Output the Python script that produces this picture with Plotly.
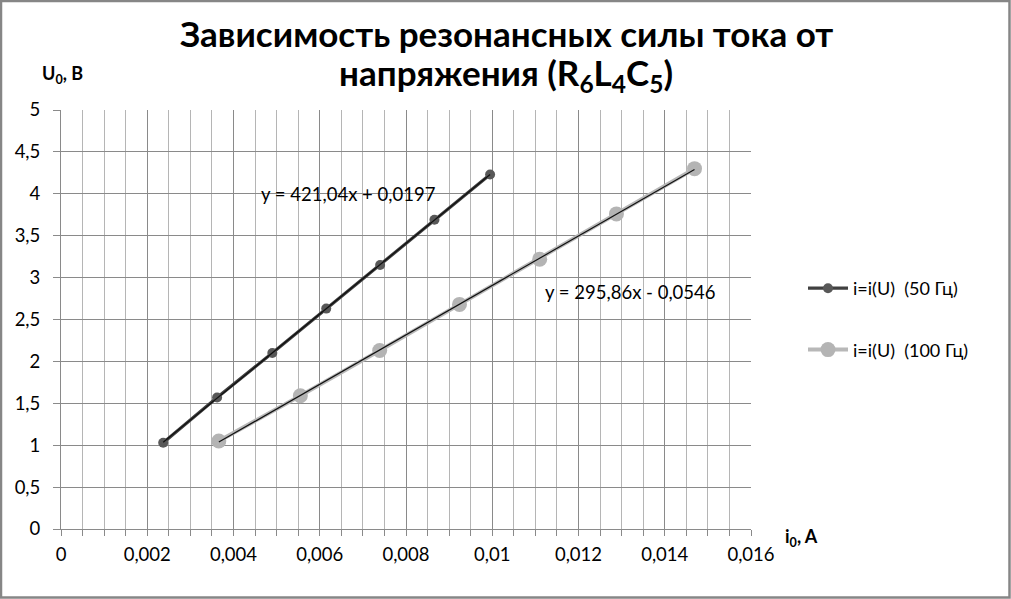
import numpy as np
import plotly.graph_objects as go

# Data
i_50 = [0.00237, 0.00362, 0.00490, 0.00615, 0.00740, 0.00866, 0.00995]
u_50 = [1.03, 1.57, 2.10, 2.63, 3.15, 3.69, 4.23]
i_100 = [0.00366, 0.00555, 0.00739, 0.00924, 0.01110, 0.01288, 0.01469]
u_100 = [1.05, 1.59, 2.13, 2.68, 3.22, 3.76, 4.30]

names = ["i=i(U)  (50 Гц)", "i=i(U)  (100 Гц)"]
eq_texts = ["y = 421,04x + 0,0197", "y = 295,86x - 0,0546"]
title_lines = ["Зависимость резонансных силы тока от",
               "напряжения (R<sub>6</sub>L<sub>4</sub>C<sub>5</sub>)"]
x_title = "i<sub>0</sub>, A"
y_title = "U<sub>0</sub>, В"

FONT = "Lato"
W, H = 1011, 599
ML, MR, MT, MB = 61, 260, 110, 70
pw = W - ML - MR
ph = H - MT - MB


def px_x(p):
    return (p - ML) / pw


def px_y(p):
    return 1 - (p - MT) / ph


fig = go.Figure()

# Series
fig.add_trace(go.Scatter(x=i_50, y=u_50, mode="lines+markers", name=names[0],
                         line=dict(color="#404040", width=3.2),
                         marker=dict(color="#585858", size=10),
                         legendgroup="a"))
fig.add_trace(go.Scatter(x=i_100, y=u_100, mode="lines+markers", name=names[1],
                         line=dict(color="#b8b8b8", width=4),
                         marker=dict(color="#b4b4b4", size=15),
                         legendgroup="b"))

# Linear trendlines computed from the data
for xs, ys in [(i_50, u_50), (i_100, u_100)]:
    k, b = np.polyfit(xs, ys, 1)
    xx = np.array([min(xs), max(xs)])
    fig.add_trace(go.Scatter(x=xx, y=k * xx + b, mode="lines", showlegend=False,
                             line=dict(color="#111111", width=1.2), hoverinfo="skip"))

grid_major = "#8a8a8a"
grid_minor = "#b5b5b5"
TICK = dict(family=FONT, size=18.5, color="#000000")

fig.update_xaxes(range=[0, 0.016], dtick=0.002, tick0=0,
                 showgrid=True, gridcolor=grid_major, gridwidth=1,
                 showline=True, linecolor=grid_major, linewidth=1,
                 ticks="outside", ticklen=6, tickcolor=grid_major,
                 zeroline=False, ticklabelstandoff=3,
                 minor=dict(dtick=0.0005, showgrid=True, gridcolor=grid_minor,
                            ticks="outside", ticklen=6, tickcolor=grid_major),
                 tickfont=TICK)
fig.update_yaxes(range=[0, 5], dtick=0.5, tick0=0,
                 showgrid=True, gridcolor=grid_major, gridwidth=1,
                 showline=True, linecolor=grid_major, linewidth=1,
                 ticks="outside", ticklen=7, tickcolor=grid_major,
                 zeroline=False, ticklabelstandoff=9,
                 tickfont=TICK)

fig.update_layout(
    width=W, height=H,
    margin=dict(l=ML, r=MR, t=MT, b=MB, autoexpand=False),
    paper_bgcolor="white", plot_bgcolor="white",
    separators=", ",
    legend=dict(x=px_x(803), y=px_y(270), xanchor="left", yanchor="top",
                font=dict(family=FONT, size=18, color="#000000"),
                tracegroupgap=35, bgcolor="rgba(0,0,0,0)", itemwidth=40),
    showlegend=True,
)

# Title (two lines)
for txt, yc in zip(title_lines, [33, 75]):
    fig.add_annotation(xref="paper", yref="paper", x=px_x(506), y=px_y(yc),
                       xanchor="center", yanchor="middle", text=txt, showarrow=False,
                       font=dict(family=FONT, size=35, color="#000000", weight="bold"))

# Trendline equations
fig.add_annotation(xref="paper", yref="paper", x=px_x(348), y=px_y(194),
                   xanchor="center", yanchor="middle",
                   text=eq_texts[0], showarrow=False,
                   font=dict(family=FONT, size=18.5, color="#000000"))
fig.add_annotation(xref="paper", yref="paper", x=px_x(630), y=px_y(292),
                   xanchor="center", yanchor="middle",
                   text=eq_texts[1], showarrow=False,
                   font=dict(family=FONT, size=18.5, color="#000000"))

# Axis titles
fig.add_annotation(xref="paper", yref="paper", x=px_x(40), y=px_y(75),
                   xanchor="left", yanchor="middle", text=y_title, showarrow=False,
                   font=dict(family=FONT, size=18, color="#000000", weight="bold"))
fig.add_annotation(xref="paper", yref="paper", x=px_x(783), y=px_y(537),
                   xanchor="left", yanchor="middle", text=x_title, showarrow=False,
                   font=dict(family=FONT, size=18, color="#000000", weight="bold"))

# Outer chart border
fig.add_shape(type="rect", xref="paper", yref="paper", layer="above",
              x0=px_x(1), x1=px_x(1009.5),
              y0=px_y(597.5), y1=px_y(1),
              line=dict(color="#868686", width=2.5), fillcolor="rgba(0,0,0,0)")

fig.write_html("out.html", config={"displayModeBar": False},
               post_script="document.body.style.margin='0';document.body.style.padding='0';")
